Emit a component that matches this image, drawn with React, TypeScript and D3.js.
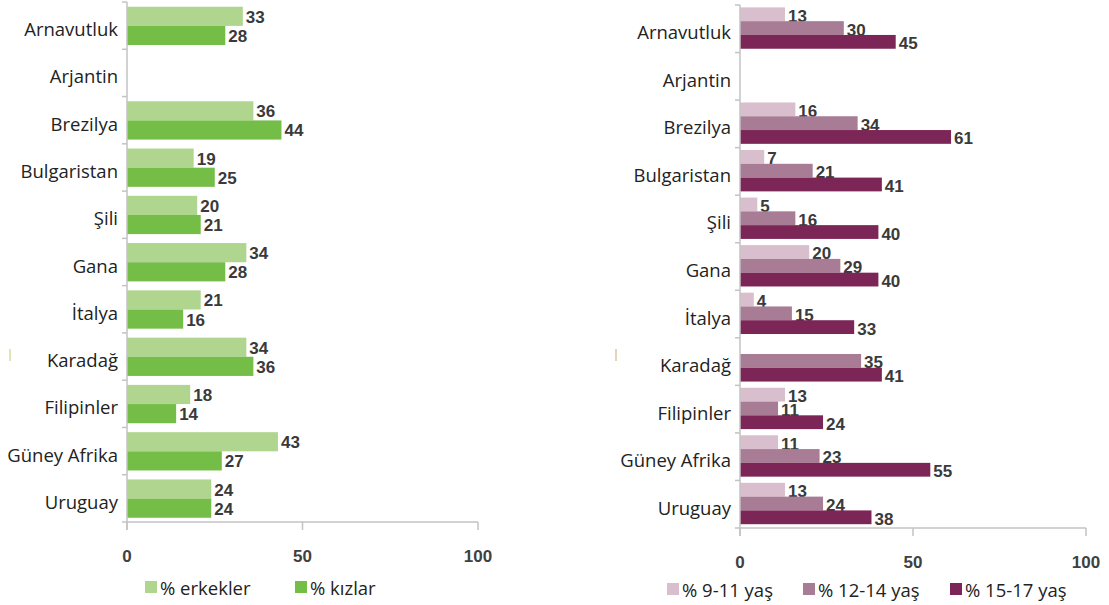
import { useEffect, useRef } from "react";
import * as d3 from "d3";

const countries = [
  "Arnavutluk",
  "Arjantin",
  "Brezilya",
  "Bulgaristan",
  "Şili",
  "Gana",
  "İtalya",
  "Karadağ",
  "Filipinler",
  "Güney Afrika",
  "Uruguay",
];

// left panel: by sex
const sexSeries = ["% erkekler", "% kızlar"];
const erkekler = [33, null, 36, 19, 20, 34, 21, 34, 18, 43, 24];
const kizlar = [28, null, 44, 25, 21, 28, 16, 36, 14, 27, 24];

// right panel: by age group
const ageSeries = ["% 9-11 yaş", "% 12-14 yaş", "% 15-17 yaş"];
const yas9_11 = [13, null, 16, 7, 5, 20, 4, null, 13, 11, 13];
const yas12_14 = [30, null, 34, 21, 16, 29, 15, 35, 11, 23, 24];
const yas15_17 = [45, null, 61, 41, 40, 40, 33, 41, 24, 55, 38];

const xTicks = [0, 50, 100];

const FONT = "'Open Sans', sans-serif";
const NUM_FONT = "Arial, 'Liberation Sans', sans-serif";
const AXIS = "#c3c3c3";

interface PanelOpts {
  x0: number;
  x1: number;
  y0: number;
  y1: number;
  series: string[];
  values: (number | null)[][];
  colors: string[];
  inner: [number, number];
  labelDy: number;
  legendX: number[];
  legendY: number;
}

function drawPanel(svg: d3.Selection<SVGSVGElement, unknown, null, undefined>, o: PanelOpts) {
  const g = svg.append("g");
  const x = d3.scaleLinear([0, 100], [o.x0, o.x1]);
  const y = d3.scaleBand(countries, [o.y0, o.y1]);
  const bw = y.bandwidth();
  const ys = d3.scaleBand(o.series, [bw * o.inner[0], bw * o.inner[1]]);

  // bars + value labels
  o.series.forEach((s, si) => {
    const rows = countries
      .map((c, i) => ({ c, v: o.values[si][i] }))
      .filter((d) => d.v != null) as { c: string; v: number }[];
    g.append("g")
      .selectAll("rect")
      .data(rows)
      .join("rect")
      .attr("x", x(0))
      .attr("y", (d) => (y(d.c) ?? 0) + (ys(s) ?? 0))
      .attr("width", (d) => x(d.v) - x(0))
      .attr("height", ys.bandwidth())
      .attr("fill", o.colors[si]);
    g.append("g")
      .selectAll("text")
      .data(rows)
      .join("text")
      .attr("x", (d) => x(d.v) + 3)
      .attr("y", (d) => (y(d.c) ?? 0) + (ys(s) ?? 0) + ys.bandwidth() / 2 + o.labelDy)
      .attr("dominant-baseline", "central")
      .attr("font-family", NUM_FONT)
      .attr("font-weight", "bold")
      .attr("font-size", "17px")
      .attr("fill", "#3a3a3a")
      .text((d) => d.v);
  });

  // y axis line + ticks at band edges
  g.append("line")
    .attr("x1", x(0))
    .attr("x2", x(0))
    .attr("y1", o.y0)
    .attr("y2", o.y1 + 8)
    .attr("stroke", AXIS)
    .attr("stroke-width", 1.5);
  const edges = countries.map((c) => y(c) ?? 0).concat([o.y1]);
  g.append("g")
    .selectAll("line")
    .data(edges)
    .join("line")
    .attr("x1", x(0) - 5)
    .attr("x2", x(0))
    .attr("y1", (d) => d)
    .attr("y2", (d) => d)
    .attr("stroke", AXIS)
    .attr("stroke-width", 1.5);

  // category labels
  g.append("g")
    .selectAll("text")
    .data(countries)
    .join("text")
    .attr("x", x(0) - 9)
    .attr("y", (d) => (y(d) ?? 0) + bw / 2 + 3)
    .attr("text-anchor", "end")
    .attr("dominant-baseline", "central")
    .attr("font-family", FONT)
    .attr("font-size", "18.5px")
    .attr("fill", "#222")
    .text((d) => d);

  // x axis
  g.append("line")
    .attr("x1", x(0))
    .attr("x2", x(100))
    .attr("y1", o.y1)
    .attr("y2", o.y1)
    .attr("stroke", AXIS)
    .attr("stroke-width", 1.5);
  g.append("g")
    .selectAll("line")
    .data(xTicks)
    .join("line")
    .attr("x1", (d) => x(d))
    .attr("x2", (d) => x(d))
    .attr("y1", o.y1)
    .attr("y2", o.y1 + 8)
    .attr("stroke", AXIS)
    .attr("stroke-width", 1.5);
  g.append("g")
    .selectAll("text")
    .data(xTicks)
    .join("text")
    .attr("x", (d) => x(d))
    .attr("y", o.y1 + 34)
    .attr("text-anchor", "middle")
    .attr("dominant-baseline", "central")
    .attr("font-family", NUM_FONT)
    .attr("font-weight", "bold")
    .attr("font-size", "17px")
    .attr("fill", "#404040")
    .text((d) => d);

  // legend
  const lg = g.append("g");
  o.series.forEach((s, i) => {
    lg.append("rect")
      .attr("x", o.legendX[i])
      .attr("y", o.legendY - 6)
      .attr("width", 12)
      .attr("height", 12)
      .attr("fill", o.colors[i]);
    lg.append("text")
      .attr("x", o.legendX[i] + 15)
      .attr("y", o.legendY)
      .attr("dominant-baseline", "central")
      .attr("font-family", FONT)
      .attr("font-size", "18.5px")
      .attr("fill", "#222")
      .text(s);
  });
}

export default function App() {
  const ref = useRef<SVGSVGElement | null>(null);

  useEffect(() => {
    if (!ref.current) return;
    const svg = d3.select(ref.current);
    svg.selectAll("*").remove();

    svg.append("rect").attr("width", 1109).attr("height", 605).attr("fill", "#fff");

    drawPanel(svg, {
      x0: 127,
      x1: 478,
      y0: 2,
      y1: 522,
      series: sexSeries,
      values: [erkekler, kizlar],
      colors: ["#b0d58e", "#74bd47"],
      inner: [0.1, 0.91],
      labelDy: 1,
      legendX: [145, 295],
      legendY: 587,
    });

    drawPanel(svg, {
      x0: 740,
      x1: 1086,
      y0: 5,
      y1: 528,
      series: ageSeries,
      values: [yas9_11, yas12_14, yas15_17],
      colors: ["#d9bfcd", "#a97c96", "#7c2657"],
      inner: [0.05, 0.92],
      labelDy: 2,
      legendX: [667, 803, 950],
      legendY: 589,
    });

    // small stray marks present in the scanned original
    svg.append("line").attr("x1", 10).attr("x2", 10).attr("y1", 349).attr("y2", 361)
      .attr("stroke", "#cfe0a0").attr("stroke-width", 1.5);
    svg.append("line").attr("x1", 616).attr("x2", 616).attr("y1", 349).attr("y2", 361)
      .attr("stroke", "#d8c8a0").attr("stroke-width", 1.5);
  }, []);

  return (
    <svg
      ref={ref}
      width={1109}
      height={605}
      style={{ position: "absolute", left: 0, top: 0 }}
    />
  );
}
